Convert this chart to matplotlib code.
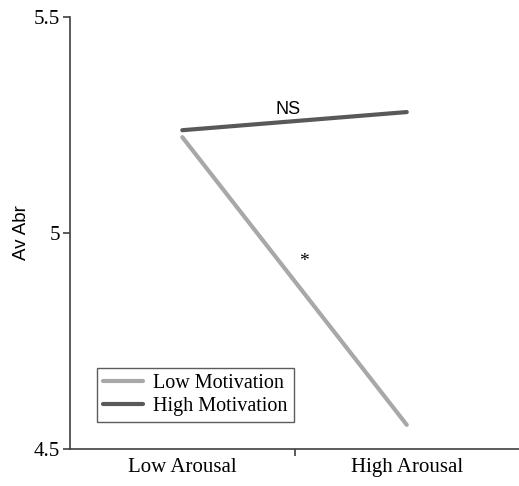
import matplotlib
matplotlib.use('Agg')
import matplotlib.pyplot as plt

categories = ['Low Arousal', 'High Arousal']
low_motivation = [5.222, 4.556]
high_motivation = [5.238, 5.28]
y_ticks = [4.5, 5, 5.5]
y_tick_labels = ['4.5', '5', '5.5']

fig = plt.figure(figsize=(5.19, 4.86), dpi=100)
ax = fig.add_axes([0.135, 0.076, 0.865, 0.889])

x = [0, 1]
ax.plot(x, low_motivation, color='#a8a8a8', lw=3, solid_capstyle='round', label='Low Motivation')
ax.plot(x, high_motivation, color='#595959', lw=3, solid_capstyle='round', label='High Motivation')

ax.set_xlim(-0.5, 1.5)
ax.set_ylim(4.5, 5.5)
ax.set_yticks(y_ticks)
ax.set_yticklabels(y_tick_labels, family='Liberation Serif', fontsize=15)
ax.set_xticks([0.5])
ax.set_xticklabels([''])
ax.tick_params(axis='both', color='#404040', length=5, width=1.2)
ax.tick_params(axis='y', pad=2)
for i, c in enumerate(categories):
    ax.text(x[i], 4.5 - 0.021, c, ha='center', va='top',
            family='Liberation Serif', fontsize=15)

for s in ['top', 'right']:
    ax.spines[s].set_visible(False)
for s in ['left', 'bottom']:
    ax.spines[s].set_color('#404040')
    ax.spines[s].set_linewidth(1.2)

ax.set_ylabel('Av Abr', family='Liberation Sans', fontsize=13.5)
ax.yaxis.set_label_coords(-0.09, 0.5)

ax.text(0.473, 5.285, 'NS', ha='center', va='center', family='Liberation Sans', fontsize=13)
ax.text(0.54, 4.935, '*', ha='center', va='center', family='Liberation Serif', fontsize=14)

leg = ax.legend(loc='lower left', bbox_to_anchor=(0.06, 0.0625), borderaxespad=0,
                prop={'family': 'Liberation Serif', 'size': 14.5}, frameon=True, fancybox=False,
                handlelength=2.0, handletextpad=0.5, labelspacing=0.2, borderpad=0.3)
leg.get_frame().set_edgecolor('#333333')
leg.get_frame().set_linewidth(1.0)

fig.savefig('out.png', dpi=100)
